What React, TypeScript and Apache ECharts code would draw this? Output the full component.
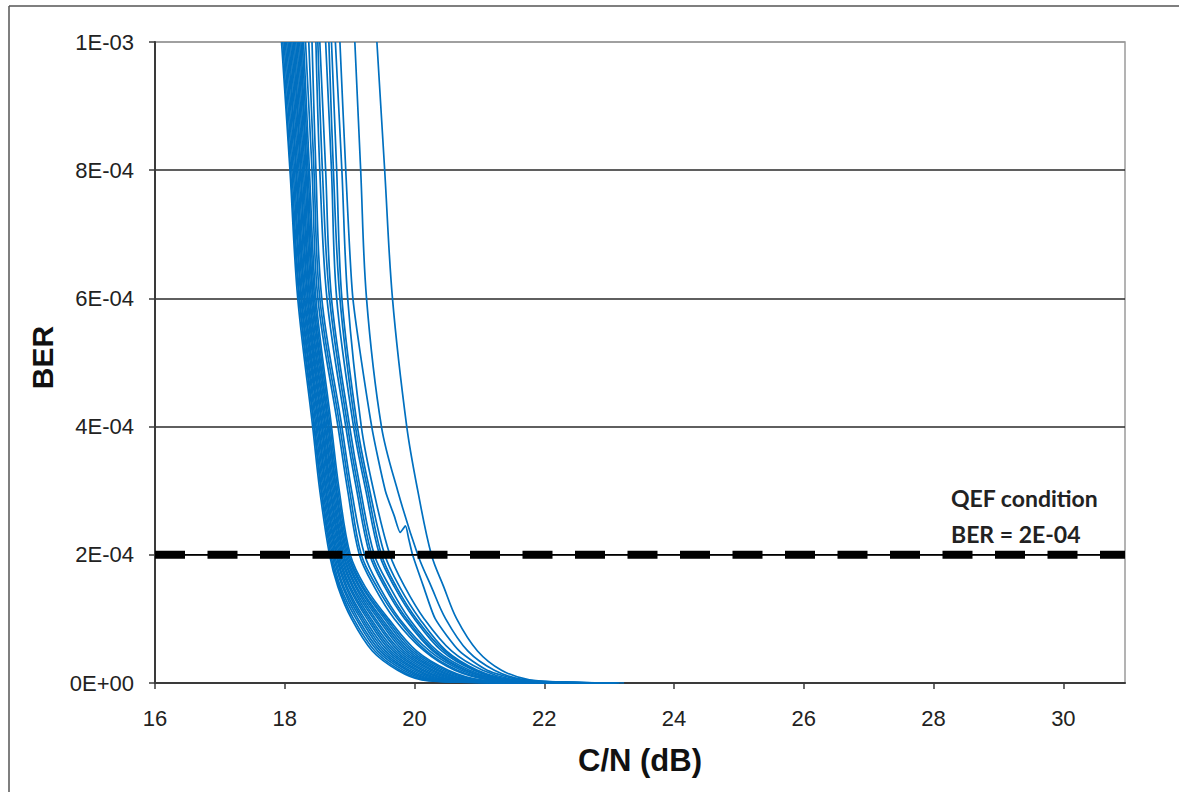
import React, { useEffect, useRef } from "react";
import * as echarts from "echarts";

const BER_LEVELS = [1e-3, 8e-4, 6e-4, 4e-4, 3e-4, 2e-4, 1.5e-4, 1e-4, 5e-5, 2e-5, 5e-6, 1e-6, 0];

// C/N (dB) of each measured curve at the BER levels above
const CURVES_CN: number[][] = [
  [17.95, 18.08, 18.2, 18.43, 18.54, 18.69, 18.82, 19.03, 19.35, 19.74, 20.11, 20.85, 21.92],
  [17.97, 18.09, 18.22, 18.45, 18.56, 18.71, 18.84, 19.06, 19.39, 19.78, 20.16, 20.91, 21.7],
  [17.99, 18.11, 18.23, 18.46, 18.57, 18.73, 18.86, 19.1, 19.43, 19.83, 20.22, 20.97, 22.2],
  [18.01, 18.13, 18.25, 18.48, 18.59, 18.75, 18.89, 19.13, 19.47, 19.88, 20.27, 21.03, 22.05],
  [18.03, 18.15, 18.26, 18.5, 18.61, 18.77, 18.91, 19.17, 19.51, 19.92, 20.32, 21.09, 22.4],
  [18.05, 18.17, 18.28, 18.52, 18.63, 18.79, 18.94, 19.2, 19.55, 19.97, 20.38, 21.15, 22.1],
  [18.07, 18.18, 18.3, 18.53, 18.64, 18.8, 18.96, 19.23, 19.59, 20.02, 20.43, 21.22, 22.6],
  [18.09, 18.2, 18.31, 18.55, 18.66, 18.82, 18.99, 19.27, 19.63, 20.06, 20.48, 21.28, 22.3],
  [18.11, 18.22, 18.33, 18.57, 18.68, 18.84, 19.01, 19.3, 19.67, 20.11, 20.54, 21.34, 22.75],
  [18.13, 18.24, 18.35, 18.58, 18.7, 18.86, 19.04, 19.33, 19.71, 20.15, 20.59, 21.4, 22.5],
  [18.15, 18.25, 18.36, 18.6, 18.71, 18.88, 19.06, 19.37, 19.75, 20.2, 20.65, 21.46, 22.85],
  [18.17, 18.27, 18.38, 18.62, 18.73, 18.9, 19.09, 19.4, 19.79, 20.25, 20.7, 21.52, 22.45],
  [18.19, 18.29, 18.39, 18.63, 18.75, 18.91, 19.11, 19.44, 19.83, 20.29, 20.75, 21.58, 22.9],
  [18.21, 18.31, 18.41, 18.65, 18.77, 18.93, 19.14, 19.47, 19.87, 20.34, 20.81, 21.65, 22.7],
  [18.23, 18.33, 18.43, 18.67, 18.79, 18.95, 19.16, 19.5, 19.91, 20.38, 20.86, 21.71, 23.0],
  [18.25, 18.34, 18.44, 18.68, 18.8, 18.97, 19.19, 19.54, 19.95, 20.43, 20.92, 21.77, 22.8],
  [18.27, 18.36, 18.46, 18.7, 18.82, 18.99, 19.21, 19.57, 19.99, 20.48, 20.97, 21.83, 23.1],
  [18.29, 18.38, 18.48, 18.72, 18.84, 19.01, 19.24, 19.6, 20.03, 20.52, 21.02, 21.89, 22.95],
  [18.32, 18.42, 18.51, 18.82, 18.97, 19.15, 19.38, 19.69, 20.15, 20.62, 21.15, 21.92, 22.85],
  [18.37, 18.45, 18.54, 18.85, 19.0, 19.18, 19.42, 19.74, 20.18, 20.66, 21.18, 21.95, 22.77],
  [18.42, 18.48, 18.57, 18.88, 19.03, 19.23, 19.46, 19.77, 20.23, 20.72, 21.23, 22.0, 23.0],
  [18.48, 18.54, 18.65, 18.94, 19.11, 19.31, 19.54, 19.85, 20.28, 20.77, 21.31, 22.08, 22.69],
  [18.51, 18.58, 18.69, 18.97, 19.14, 19.34, 19.57, 19.88, 20.31, 20.8, 21.34, 22.11, 22.85],
  [18.54, 18.63, 18.72, 19.0, 19.17, 19.38, 19.62, 19.92, 20.35, 20.85, 21.38, 22.15, 23.08],
  [18.63, 18.72, 18.8, 19.06, 19.25, 19.46, 19.69, 20.0, 20.42, 20.91, 21.43, 22.23, 22.92],
  [18.68, 18.75, 18.85, 19.09, 19.28, 19.49, 19.72, 20.03, 20.46, 20.94, 21.46, 22.26, 23.03],
  [18.72, 18.8, 18.88, 19.12, 19.31, 19.54, 19.77, 20.08, 20.49, 20.97, 21.49, 22.31, 23.15],
  [18.78, 18.88, 18.97, 19.18, 19.37, 19.62, 19.85, 20.15, 20.57, 21.05, 21.55, 22.35, 23.03],
  [19.08, 19.17, 19.26, 19.49, 19.74, 20.05, 20.26, 20.48, 20.82, 21.23, 21.69, 22.46, 23.12],
  [19.42, 19.54, 19.66, 19.88, 20.05, 20.26, 20.45, 20.65, 20.97, 21.34, 21.77, 22.46, 23.23],
];

// one curve with a small bump just above the QEF line
const KINK_BER = [1e-3, 8e-4, 6e-4, 4e-4, 3e-4, 2.6e-4, 2.35e-4, 2.45e-4, 2.25e-4, 2e-4, 1.5e-4, 1e-4, 5e-5, 2e-5, 5e-6, 1e-6, 0];
const KINK_CN = [18.85, 18.94, 19.05, 19.34, 19.55, 19.69, 19.78, 19.86, 19.91, 19.97, 20.14, 20.32, 20.69, 21.12, 21.62, 22.38, 23.08];

const QEF_BER = 2e-4;
const X_MIN = 16;
const X_MAX = 30.95;
const X_TICKS = [16, 18, 20, 22, 24, 26, 28, 30];
const QEF_LINES = ["QEF condition", "BER = 2E-04"];

const FONT = "'Liberation Sans', Arial, sans-serif";
const BLUE = "#0070C0";

function fmtSci(v: number): string {
  if (v === 0) return "0E+00";
  const e = Math.floor(Math.log10(v) + 1e-9);
  const m = Math.round(v / Math.pow(10, e));
  const s = e < 0 ? "-" : "+";
  return `${m}E${s}${String(Math.abs(e)).padStart(2, "0")}`;
}

export default function App() {
  const ref = useRef<HTMLDivElement>(null);
  useEffect(() => {
    if (!ref.current) return;
    const chart = echarts.init(ref.current, null, { renderer: "svg" });

    const curveSeries: any[] = CURVES_CN.map((cn, i) => ({
      type: "line",
      name: `curve${i + 1}`,
      data: cn.map((x, j) => [x, BER_LEVELS[j]]),
      showSymbol: false,
      smooth: 0.35,
      lineStyle: { color: BLUE, width: 1.7 },
      z: 2,
    }));
    curveSeries.push({
      type: "line",
      name: "kink",
      data: KINK_CN.map((x, j) => [x, KINK_BER[j]]),
      showSymbol: false,
      smooth: 0.2,
      lineStyle: { color: BLUE, width: 1.7 },
      z: 2,
    });

    const qefThin = {
      type: "line",
      name: "qefThin",
      data: [
        [X_MIN, QEF_BER],
        [X_MAX, QEF_BER],
      ],
      showSymbol: false,
      lineStyle: { color: "#000", width: 1.5 },
      z: 5,
    };
    const qefDash = {
      type: "line",
      name: "qefDash",
      data: [
        [X_MIN, QEF_BER],
        [X_MAX, QEF_BER],
      ],
      showSymbol: false,
      lineStyle: { color: "#000", width: 8, type: [30, 22.5], cap: "butt" },
      z: 6,
    };

    chart.setOption({
      animation: false,
      backgroundColor: "#fff",
      grid: {
        left: 155,
        right: 54,
        top: 42,
        bottom: 109,
        show: true,
        borderColor: "#9a9a9a",
        borderWidth: 1.5,
        backgroundColor: "transparent",
      },
      xAxis: {
        type: "value",
        min: X_MIN,
        max: X_MAX,
        interval: 2,
        name: "C/N (dB)",
        nameLocation: "middle",
        nameGap: 62,
        nameTextStyle: { fontFamily: FONT, fontWeight: "bold", fontSize: 31, color: "#111" },
        axisLine: { show: true, lineStyle: { color: "#3a3a3a", width: 2 } },
        axisTick: { show: true, inside: false, length: 6, customValues: X_TICKS, lineStyle: { color: "#3a3a3a", width: 1.5 } },
        axisLabel: {
          customValues: X_TICKS,
          margin: 24,
          fontFamily: FONT,
          fontSize: 22,
          color: "#222",
          formatter: (v: number) => String(v),
        },
        splitLine: { show: false },
      },
      yAxis: {
        type: "value",
        min: 0,
        max: 1e-3,
        interval: 2e-4,
        name: "BER",
        nameLocation: "middle",
        nameRotate: 90,
        nameGap: 98,
        nameTextStyle: { fontFamily: FONT, fontWeight: "bold", fontSize: 30, color: "#111", padding: [0, 0, 0, 10] },
        axisLine: { show: true, lineStyle: { color: "#3a3a3a", width: 2 } },
        axisTick: { show: true, inside: false, length: 6, lineStyle: { color: "#3a3a3a", width: 1.5 } },
        axisLabel: {
          margin: 21,
          fontFamily: FONT,
          fontSize: 22,
          color: "#222",
          formatter: (v: number) => fmtSci(v),
        },
        splitLine: {
          show: true,
          lineStyle: {
            color: ["#2a2a2a", "#2a2a2a", "#2a2a2a", "#2a2a2a", "#2a2a2a", "#9a9a9a"],
            width: 1.5,
          },
        },
      },
      series: [...curveSeries, qefThin, qefDash],
      graphic: [
        {
          type: "line",
          shape: { x1: 9, y1: 6, x2: 1179, y2: 6 },
          style: { stroke: "#555", lineWidth: 1.5 },
        },
        {
          type: "line",
          shape: { x1: 9, y1: 6, x2: 9, y2: 792 },
          style: { stroke: "#555", lineWidth: 1.5 },
        },
        {
          type: "text",
          left: 951,
          top: 486,
          style: { text: QEF_LINES[0], font: "bold 23px Lato, 'Open Sans', sans-serif", fill: "#222" },
          z: 10,
        },
        {
          type: "text",
          left: 951,
          top: 522,
          style: { text: QEF_LINES[1], font: "bold 23px Lato, 'Open Sans', sans-serif", fill: "#222" },
          z: 10,
        },
      ],
    });
    return () => chart.dispose();
  }, []);
  return (
    <div
      ref={ref}
      style={{ position: "absolute", left: 0, top: 0, width: 1179, height: 792, background: "#fff" }}
    />
  );
}
